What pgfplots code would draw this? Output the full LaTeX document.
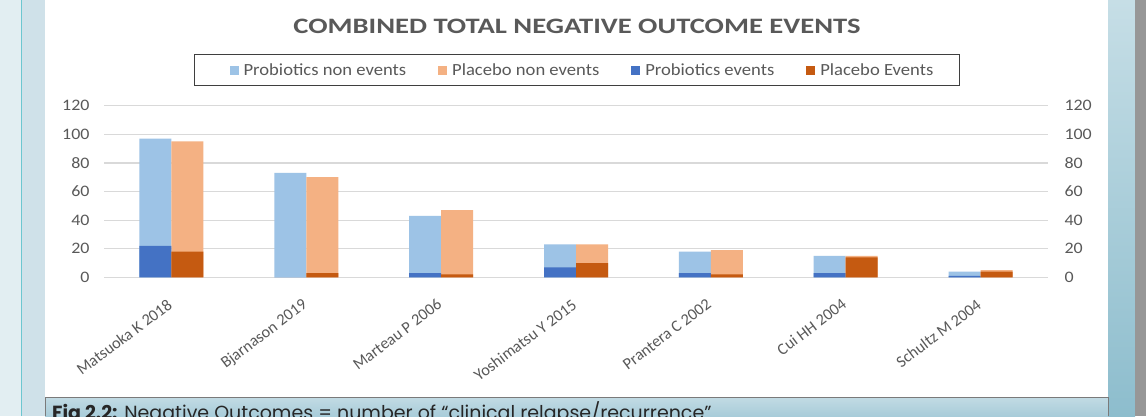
\documentclass[border=0pt]{standalone}
\usepackage{graphicx}
\usepackage{pgfplots}
\pgfplotsset{compat=1.18}
\usepackage{fontspec}
\setmainfont{Carlito}
\newfontfamily\capfont{Poppins}
\definecolor{lblue}{HTML}{9DC3E6}
\definecolor{lorange}{HTML}{F4B183}
\definecolor{dblue}{HTML}{4472C4}
\definecolor{dorange}{HTML}{C55A11}
\definecolor{gridgray}{HTML}{D9D9D9}
\definecolor{textgray}{HTML}{595959}
\definecolor{stripA}{HTML}{E2EEF2}
\definecolor{stripB}{HTML}{CFE1E9}
\definecolor{tealline}{HTML}{6CC6D0}
\definecolor{rtop}{HTML}{C6DEE6}
\definecolor{rbot}{HTML}{8DBDCD}
\definecolor{graystripe}{HTML}{979797}
\definecolor{ctop}{HTML}{C2DBE4}
\definecolor{cbot}{HTML}{A8CCD9}
\definecolor{capline}{HTML}{7A7A7A}
\definecolor{legborder}{HTML}{3F3F3F}

\pgfplotstableread{
x ptot pltot pev plev
0 97 95 22 18
1 73 70 0 3
2 43 47 3 2
3 23 23 7 10
4 18 19 3 2
5 15 15 3 14
6 4 5 1 4
}\datatab

\newcommand{\legtxt}[1]{\scalebox{1.095}[1]{#1}}

\pgfplotsset{
  common/.style={
    at={(104pt,138.7pt)}, anchor=south west,
    scale only axis, width=944pt, height=171.6pt,
    xmin=-0.5, xmax=6.5, ymin=0, ymax=120,
    ytick={0,20,...,120},
    major tick length=0pt,
    axis line style={draw=none},
    /pgf/number format/assume math mode=true,
    tick label style={font=\fontsize{16}{19}\selectfont, text=textgray},
    yticklabel={\scalebox{1.12}[1]{\pgfmathprintnumber{\tick}}},
  }
}

\begin{document}
\begin{tikzpicture}
\path[use as bounding box, clip] (0pt,0pt) rectangle (1146pt,416pt);
\fill[white] (0pt,0pt) rectangle (1146pt,416pt);
\fill[stripA] (0pt,0pt) rectangle (22pt,416pt);
\fill[stripB] (22pt,0pt) rectangle (45pt,416pt);
\draw[tealline, line width=1.5pt] (21.5pt,0pt) -- (21.5pt,416pt);
\shade[top color=rtop, bottom color=rbot] (1108pt,0pt) rectangle (1135pt,416pt);
\fill[graystripe] (1135pt,0pt) rectangle (1146pt,416pt);
\shade[top color=ctop, bottom color=cbot] (45pt,0pt) rectangle (1108pt,19pt);
\draw[capline, line width=1pt] (45pt,0pt) -- (45pt,19pt) -- (1108pt,19pt) -- (1108pt,0pt);
\node[anchor=base west, inner sep=0pt, text=black!85] at (52pt,-3pt)
  {\capfont\fontsize{19}{22}\selectfont\textbf{Fig 2.2:} Negative Outcomes = number of “clinical relapse/recurrence”};
\node[anchor=base, inner sep=0pt, text=textgray] at (577pt,382pt)
  {\scalebox{1.3}[1]{\fontsize{22}{26}\selectfont\bfseries COMBINED TOTAL NEGATIVE OUTCOME EVENTS}};

\begin{axis}[common,
  ybar,
  xtick={0,...,6},
  xticklabels={Matsuoka K 2018, Bjarnason 2019, Marteau P 2006, Yoshimatsu Y 2015, Prantera C 2002, Cui HH 2004, Schultz M 2004},
  xticklabel style={rotate=37, anchor=north east, font=\fontsize{16.3}{19}\selectfont, xshift=-13pt, yshift=-10pt},
  yticklabel style={anchor=east, xshift=-11pt},
  ymajorgrids, grid style={draw=gridgray, line width=1.2pt},
  legend style={at={(0.501,1.208)}, anchor=center, draw=legborder, line width=1.3pt,
    legend columns=4, font=\fontsize{17}{20}\selectfont, text=textgray,
    /tikz/every even column/.append style={column sep=19pt},
    inner xsep=24pt, inner ysep=7pt},
  legend cell align=left,
  legend image code/.code={\path (-23pt,0pt) (0pt,0pt); \fill[#1] (-12pt,-4.5pt) rectangle (-3pt,4.5pt);},
]
\addplot[fill=lblue, draw=none, bar width=32pt, bar shift=-16pt] table[x=x,y=ptot] {\datatab};
\addplot[fill=lorange, draw=none, bar width=32pt, bar shift=16pt] table[x=x,y=pltot] {\datatab};
\addplot[fill=dblue, draw=none, bar width=32pt, bar shift=-16pt] table[x=x,y=pev] {\datatab};
\addplot[fill=dorange, draw=none, bar width=32pt, bar shift=16pt] table[x=x,y=plev] {\datatab};
\legend{\legtxt{Probiotics non events}, \legtxt{Placebo non events}, \legtxt{Probiotics events}, \legtxt{Placebo Events}}
\end{axis}

\begin{axis}[common,
  axis y line*=right,
  hide x axis,
  yticklabel style={anchor=west, xshift=13pt},
]
\addplot[draw=none] coordinates {(0,0)};
\end{axis}
\end{tikzpicture}
\end{document}
